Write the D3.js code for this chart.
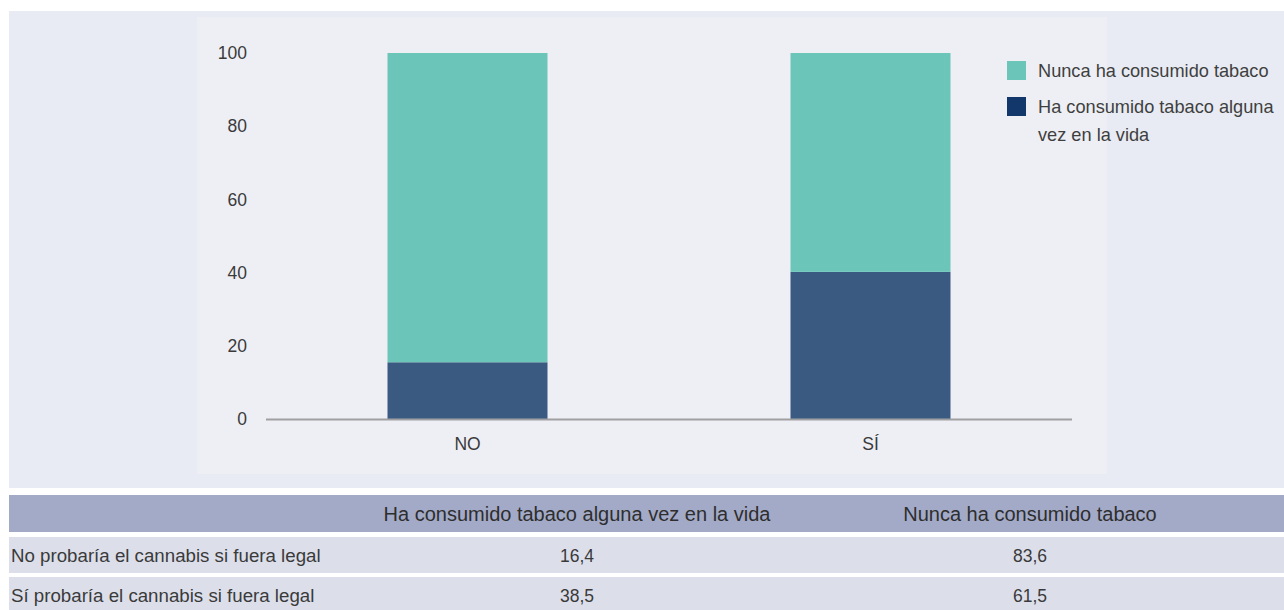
<!DOCTYPE html>
<html><head><meta charset="utf-8">
<script src="https://cdn.jsdelivr.net/npm/d3@7"></script>
<style>
html,body{margin:0;padding:0;background:#fff;}
svg{display:block;font-family:"Liberation Sans",Arial,sans-serif;}
</style></head>
<body><svg id="c" width="1284" height="610"></svg>
<script>
const categories = ["NO", "SÍ"];
const rowLabels = ["No probaría el cannabis si fuera legal", "Sí probaría el cannabis si fuera legal"];
const seriesNames = ["Ha consumido tabaco alguna vez en la vida", "Nunca ha consumido tabaco"];
// values printed in the table
const everSmoked = [16.4, 38.5];
const neverSmoked = [83.6, 61.5];
// values as drawn by the bars in the picture
const barEverSmoked = [15.5, 40.2];
const barNeverSmoked = [84.5, 59.8];
const yTicks = [0, 20, 40, 60, 80, 100];
const colors = ["#3b5a82", "#6bc6b9"];
const legendColors = ["#12376a", "#6bc6b9"];

const svg = d3.select("#c");
const fmt = v => d3.format(".1f")(v).replace(".", ",");

// panels
svg.append("rect").attr("x", 9).attr("y", 11).attr("width", 1275).attr("height", 477).attr("fill", "#e8ebf3");
svg.append("rect").attr("x", 197).attr("y", 17).attr("width", 910).attr("height", 457).attr("fill", "#eeeff4");

const x = d3.scaleBand().domain(categories).range([266, 1072]).paddingInner(0.603).paddingOuter(0.3015);
const y = d3.scaleLinear().domain([0, 100]).range([419, 53]);

const data = categories.map((c, i) => ({cat: c, ever: barEverSmoked[i], never: barNeverSmoked[i]}));
const stack = d3.stack().keys(["ever", "never"])(data);

svg.append("g").selectAll("g").data(stack).join("g")
  .attr("fill", (d, i) => colors[i])
  .selectAll("rect").data(d => d).join("rect")
  .attr("x", d => x(d.data.cat))
  .attr("width", x.bandwidth())
  .attr("y", d => y(d[1]))
  .attr("height", d => y(d[0]) - y(d[1]));

// x axis line
svg.append("line").attr("x1", 266).attr("x2", 1072).attr("y1", y(0) + 0.5).attr("y2", y(0) + 0.5)
  .attr("stroke", "#a0a0a2").attr("stroke-width", 2);

// y tick labels
svg.append("g").selectAll("text").data(yTicks).join("text")
  .attr("x", 247).attr("y", d => y(d)).attr("dy", "0.35em")
  .attr("text-anchor", "end").attr("font-size", 17.5).attr("fill", "#3a3a3a").text(d => d);

// x labels
svg.append("g").selectAll("text").data(categories).join("text")
  .attr("x", d => x(d) + x.bandwidth() / 2).attr("y", 444).attr("dy", "0.35em")
  .attr("text-anchor", "middle").attr("font-size", 17.5).attr("fill", "#3a3a3a").text(d => d);

// legend
const legendItems = [
  {lines: ["Nunca ha consumido tabaco"], color: legendColors[1], y: 61},
  {lines: ["Ha consumido tabaco alguna", "vez en la vida"], color: legendColors[0], y: 97}
];
const lg = svg.append("g");
legendItems.forEach(it => {
  lg.append("rect").attr("x", 1007).attr("y", it.y).attr("width", 19).attr("height", 19).attr("fill", it.color);
  it.lines.forEach((l, j) => {
    lg.append("text").attr("x", 1038).attr("y", it.y + 10 + j * 28).attr("dy", "0.35em")
      .attr("font-size", 18.2).attr("fill", "#3f3f3f").text(l);
  });
});

// table
const colX = [577, 1030];
const tb = svg.append("g");
tb.append("rect").attr("x", 9).attr("y", 495).attr("width", 1275).attr("height", 37).attr("fill", "#a3aac7");
seriesNames.forEach((s, i) => {
  tb.append("text").attr("x", colX[i]).attr("y", 513.5).attr("dy", "0.35em").attr("text-anchor", "middle")
    .attr("font-size", 20).attr("fill", "#2e2e2e").text(s);
});
const rowY = [537, 577];
rowLabels.forEach((r, i) => {
  tb.append("rect").attr("x", 9).attr("y", rowY[i]).attr("width", 1275).attr("height", 36).attr("fill", "#dcdfea");
  tb.append("text").attr("x", 11).attr("y", rowY[i] + 18.5).attr("dy", "0.35em")
    .attr("font-size", 18.7).attr("fill", "#3a3a3a").text(r);
  [everSmoked[i], neverSmoked[i]].forEach((v, k) => {
    tb.append("text").attr("x", colX[k]).attr("y", rowY[i] + 18.5).attr("dy", "0.35em").attr("text-anchor", "middle")
      .attr("font-size", 17.5).attr("fill", "#3a3a3a").text(fmt(v));
  });
});
</script></body></html>
